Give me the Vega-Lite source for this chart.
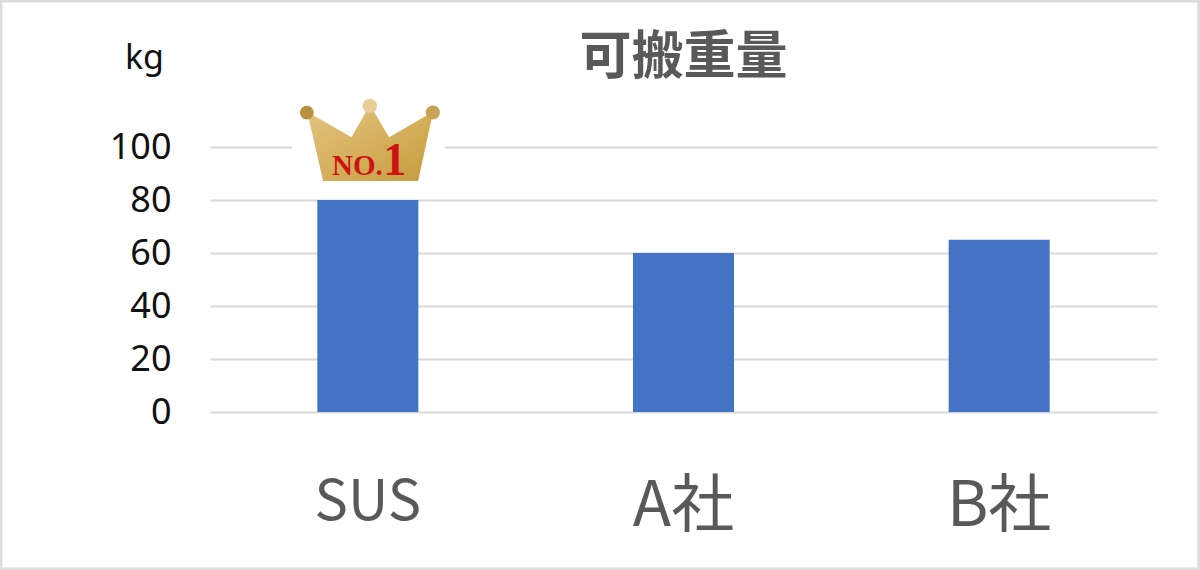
{
  "$schema": "https://vega.github.io/schema/vega-lite/v6.json",
  "width": 947,
  "height": 265,
  "autosize": {"type": "none"},
  "padding": {"left": 210, "top": 147, "right": 43, "bottom": 158},
  "background": "white",
  "config": {"view": {"stroke": null}},
  "title": {
    "text": "可搬重量",
    "font": "Noto Sans CJK JP",
    "fontSize": 52,
    "fontWeight": "bold",
    "color": "#595959",
    "anchor": "middle",
    "offset": 0,
    "dy": 95
  },
  "datasets": {
    "bars": [
      {"company": "SUS", "weight": 80},
      {"company": "A社", "weight": 60},
      {"company": "B社", "weight": 65}
    ]
  },
  "encoding": {
    "x": {
      "field": "company",
      "type": "nominal",
      "sort": null,
      "title": null,
      "scale": {"domain": ["SUS", "A社", "B社"], "paddingInner": 0.68, "paddingOuter": 0.34},
      "axis": {
        "labelAngle": 0,
        "labelFont": "Noto Sans CJK JP",
        "labelFontSize": {"condition": {"test": "datum.value == 'SUS'", "value": 56}, "value": 63},
        "labelColor": "#595959",
        "labelPadding": 63,
        "domain": false,
        "ticks": false,
        "grid": false
      }
    },
    "y": {
      "field": "weight",
      "type": "quantitative",
      "title": "kg",
      "scale": {"domain": [0, 100], "nice": false},
      "axis": {
        "values": [0, 20, 40, 60, 80, 100],
        "labelFont": "Noto Sans",
        "labelFontSize": 36,
        "labelColor": "#111111",
        "labelPadding": 39,
        "domain": false,
        "ticks": false,
        "grid": true,
        "gridColor": "#d9d9d9",
        "gridWidth": 2,
        "titleFont": "Noto Sans",
        "titleFontSize": 34,
        "titleFontWeight": "normal",
        "titleColor": "#111111",
        "titleAngle": 0,
        "titleX": -66,
        "titleY": -72
      }
    }
  },
  "layer": [
    {
      "data": {"name": "bars"},
      "mark": {"type": "bar", "color": "#4472c4"}
    },
    {
      "data": {"values": [{"company": "SUS", "weight": 100}]},
      "mark": {
        "type": "point",
        "filled": true,
        "opacity": 1,
        "color": "white",
        "size": 40000,
        "xOffset": 2,
        "shape": "M-0.78,-0.03H0.75V0.03H-0.78Z"
      }
    },
    {
      "data": {"values": [{"company": "SUS", "weight": 101.5}]},
      "mark": {
        "type": "point",
        "filled": true,
        "opacity": 1,
        "size": 40000,
        "xOffset": 2,
        "shape": "M-0.467,0.38L0.483,0.38L0.633,-0.313L0.193,-0.057L0,-0.38L-0.183,-0.057L-0.627,-0.313Z",
        "fill": {
          "gradient": "linear",
          "x1": 0, "y1": 0, "x2": 1, "y2": 1,
          "stops": [
            {"offset": 0, "color": "#e2c684"},
            {"offset": 0.5, "color": "#d6b05e"},
            {"offset": 1, "color": "#c49c3e"}
          ]
        }
      }
    },
    {
      "data": {"values": [{"company": "SUS", "weight": 113}]},
      "mark": {"type": "point", "filled": true, "opacity": 1, "color": "#b8923c", "size": 190, "xOffset": -61, "shape": "circle"}
    },
    {
      "data": {"values": [{"company": "SUS", "weight": 115.5}]},
      "mark": {"type": "point", "filled": true, "opacity": 1, "color": "#e8cd96", "size": 210, "xOffset": 2, "shape": "circle"}
    },
    {
      "data": {"values": [{"company": "SUS", "weight": 113}]},
      "mark": {"type": "point", "filled": true, "opacity": 1, "color": "#c9a254", "size": 200, "xOffset": 65, "shape": "circle"}
    },
    {
      "data": {"values": [{"company": "SUS", "weight": 89.4, "label": "NO."}]},
      "mark": {"type": "text", "font": "Liberation Serif", "fontWeight": "bold", "fontSize": 29, "color": "#cc1414", "baseline": "alphabetic", "align": "right", "xOffset": 15},
      "encoding": {"text": {"field": "label"}}
    },
    {
      "data": {"values": [{"company": "SUS", "weight": 89.4, "label": "1"}]},
      "mark": {"type": "text", "font": "Liberation Serif", "fontWeight": "bold", "fontSize": 46, "color": "#cc1414", "baseline": "alphabetic", "align": "center", "xOffset": 27},
      "encoding": {"text": {"field": "label"}}
    },
    {
      "data": {"values": [{"company": "SUS", "weight": 101.5}]},
      "mark": {
        "type": "point",
        "filled": false,
        "opacity": 1,
        "size": 40000,
        "xOffset": 2,
        "stroke": "#dcdcdc",
        "strokeWidth": 5,
        "fill": null,
        "shape": "M-3.7,-1.43H8.3V4.27H-3.7Z"
      }
    }
  ]
}
